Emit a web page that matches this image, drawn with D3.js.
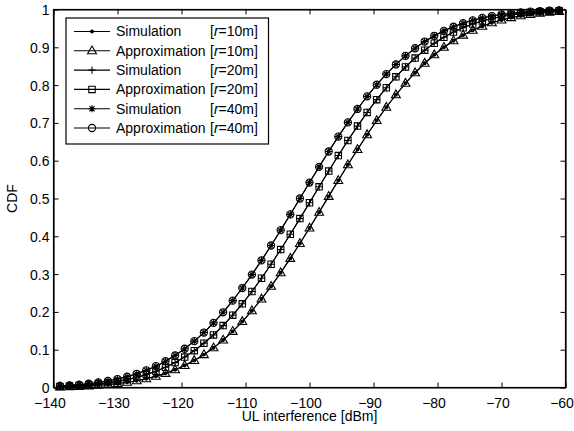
<!DOCTYPE html>
<html>
<head>
<meta charset="utf-8">
<script src="https://cdn.jsdelivr.net/npm/d3@7"></script>
<style>
  html, body { margin: 0; padding: 0; background: #fff; overflow: hidden; }
  svg { display: block; }
  text { font-family: "Liberation Sans", Arial, sans-serif; fill: #000; }
</style>
</head>
<body>
<div id="container"></div>
<script>
// canvas size
let width = 574;
let height = 431;
let margin = { top: 9.5, right: 8.5, bottom: 43.5, left: 53.5 };

// x samples [dBm]
const xValues = [
  -139, -137.5, -136, -134.5, -133, -131.5, -130, -128.5, -127, -125.5,
  -124, -122.5, -121, -119.5, -118, -116.5, -115, -113.5, -112, -110.5,
  -109, -107.5, -106, -104.5, -103, -101.5, -100, -98.5, -97, -95.5,
  -94, -92.5, -91, -89.5, -88, -86.5, -85, -83.5, -82, -80.5,
  -79, -77.5, -76, -74.5, -73, -71.5, -70, -68.5, -67, -65.5,
  -64, -62.5, -61
];

// CDF, r = 10m
const cdfR10 = [
  0.0016, 0.0023, 0.0031, 0.0043, 0.0059, 0.0079, 0.0104, 0.0138, 0.0179, 0.0231,
  0.0296, 0.0374, 0.0469, 0.0582, 0.0715, 0.0870, 0.1050, 0.1255, 0.1486, 0.1745,
  0.2030, 0.2341, 0.2677, 0.3036, 0.3415, 0.3810, 0.4218, 0.4635, 0.5056, 0.5476,
  0.5892, 0.6297, 0.6688, 0.7062, 0.7415, 0.7744, 0.8049, 0.8327, 0.8578, 0.8802,
  0.9000, 0.9173, 0.9323, 0.9450, 0.9558, 0.9648, 0.9723, 0.9784, 0.9833, 0.9872,
  0.9903, 0.9927, 0.9946
];
// r = 20m
const cdfR20 = [
  0.0028, 0.0038, 0.0052, 0.0070, 0.0093, 0.0123, 0.0161, 0.0209, 0.0268, 0.0341,
  0.0429, 0.0534, 0.0659, 0.0806, 0.0975, 0.1170, 0.1391, 0.1638, 0.1913, 0.2214,
  0.2540, 0.2890, 0.3261, 0.3650, 0.4054, 0.4468, 0.4888, 0.5309, 0.5726, 0.6136,
  0.6534, 0.6915, 0.7276, 0.7615, 0.7930, 0.8219, 0.8481, 0.8716, 0.8924, 0.9107,
  0.9266, 0.9402, 0.9517, 0.9614, 0.9695, 0.9761, 0.9814, 0.9857, 0.9892, 0.9918,
  0.9939, 0.9955, 0.9967
];
// r = 40m
const cdfR40 = [
  0.0041, 0.0056, 0.0076, 0.0101, 0.0133, 0.0173, 0.0224, 0.0286, 0.0363, 0.0455,
  0.0565, 0.0695, 0.0848, 0.1025, 0.1226, 0.1454, 0.1709, 0.1990, 0.2298, 0.2631,
  0.2987, 0.3363, 0.3757, 0.4163, 0.4579, 0.5000, 0.5421, 0.5837, 0.6243, 0.6637,
  0.7013, 0.7369, 0.7702, 0.8010, 0.8291, 0.8546, 0.8774, 0.8975, 0.9152, 0.9304,
  0.9435, 0.9545, 0.9637, 0.9714, 0.9776, 0.9827, 0.9867, 0.9899, 0.9924, 0.9944,
  0.9959, 0.9970, 0.9978
];

const seriesNames = ['Simulation', 'Approximation', 'Simulation', 'Approximation', 'Simulation', 'Approximation'];
const seriesRadius = ['10', '10', '20', '20', '40', '40'];
// simulation and approximation sit on top of each other in the plot
const seriesValues = [cdfR10, cdfR10, cdfR20, cdfR20, cdfR40, cdfR40];
const seriesMarkers = ['dot', 'triangle', 'plus', 'square', 'star', 'circle'];

const xTicks = [-140, -130, -120, -110, -100, -90, -80, -70, -60];
const yTicks = [0, 0.1, 0.2, 0.3, 0.4, 0.5, 0.6, 0.7, 0.8, 0.9, 1];
const yTickLabels = ['0', '0.1', '0.2', '0.3', '0.4', '0.5', '0.6', '0.7', '0.8', '0.9', '1'];

// marker shapes
const markerPath = {
  dot: 'M-1.4,0a1.4,1.4 0 1,0 2.8,0a1.4,1.4 0 1,0 -2.8,0',
  triangle: 'M0,-4.8L4.4,3L-4.4,3Z',
  plus: 'M-3.6,0H3.6M0,-3.6V3.6',
  square: 'M-3.2,-3.2H3.2V3.2H-3.2Z',
  star: 'M-3.6,0H3.6M0,-3.6V3.6M-2.6,-2.6L2.6,2.6M-2.6,2.6L2.6,-2.6',
  circle: 'M-3.6,0a3.6,3.6 0 1,0 7.2,0a3.6,3.6 0 1,0 -7.2,0'
};

let svg = d3.create('svg').attr('width', width).attr('height', height);

let innerWidth = width - margin.left - margin.right;
let innerHeight = height - margin.top - margin.bottom;

let xScale = d3.scaleLinear().domain([-140, -60]).range([margin.left, margin.left + innerWidth]);
let yScale = d3.scaleLinear().domain([0, 1]).range([margin.top + innerHeight, margin.top]);

svg.append('rect').attr('width', width).attr('height', height).attr('fill', '#fff');

// axes, ticks pointing inwards like matlab
let xAxis = d3.axisBottom(xScale).tickValues(xTicks).tickSizeInner(-5).tickSizeOuter(0);
let yAxis = d3.axisLeft(yScale).tickValues(yTicks).tickFormat((d, i) => yTickLabels[i])
  .tickSizeInner(-5).tickSizeOuter(0).tickPadding(4);

let gx = svg.append('g').attr('transform', `translate(0,${margin.top + innerHeight})`).call(xAxis);
let gy = svg.append('g').attr('transform', `translate(${margin.left},0)`).call(yAxis);
svg.append('g').attr('transform', `translate(0,${margin.top})`)
  .call(d3.axisTop(xScale).tickValues(xTicks).tickSizeInner(-5).tickSizeOuter(0).tickFormat(''));
svg.append('g').attr('transform', `translate(${margin.left + innerWidth},0)`)
  .call(d3.axisRight(yScale).tickValues(yTicks).tickSizeInner(-5).tickSizeOuter(0).tickFormat(''));

// x labels: explicit baseline, and matlab puts them a few pixels left of the tick
gx.selectAll('.tick text').attr('dy', null).attr('y', 20).attr('dx', -4);
gy.selectAll('.tick text').attr('dy', null).attr('y', 5);

svg.selectAll('.domain').attr('stroke', '#000').attr('stroke-width', 1.2);
svg.selectAll('.tick line').attr('stroke', '#000').attr('stroke-width', 1);
svg.selectAll('.tick text').attr('font-size', '14px').attr('font-family', '"Liberation Sans", Arial, sans-serif').attr('fill', '#000');

// box
svg.append('rect')
  .attr('x', margin.left).attr('y', margin.top)
  .attr('width', innerWidth).attr('height', innerHeight)
  .attr('fill', 'none').attr('stroke', '#000').attr('stroke-width', 1.2);

// axis labels
svg.append('text')
  .attr('x', xScale(-100)).attr('y', 421)
  .attr('text-anchor', 'middle').attr('font-size', '14px')
  .text('UL interference [dBm]');
svg.append('text')
  .attr('transform', `translate(17,${yScale(0.5)}) rotate(-90)`)
  .attr('text-anchor', 'middle').attr('font-size', '14px')
  .text('CDF');

// curves
let line = d3.line().x((d, i) => xScale(xValues[i])).y(d => yScale(d));

seriesValues.forEach((vals, s) => {
  let g = svg.append('g');
  g.append('path')
    .attr('d', line(vals))
    .attr('fill', 'none').attr('stroke', '#000').attr('stroke-width', 1.1);
  g.selectAll('.mk')
    .data(vals)
    .enter()
    .append('path')
    .attr('transform', (d, i) => `translate(${xScale(xValues[i])},${yScale(d)})`)
    .attr('d', markerPath[seriesMarkers[s]])
    .attr('fill', seriesMarkers[s] === 'dot' ? '#000' : 'none')
    .attr('stroke', '#000').attr('stroke-width', 1.1);
});

// legend
let legend = svg.append('g');
legend.append('rect')
  .attr('x', 66).attr('y', 18).attr('width', 202.5).attr('height', 126)
  .attr('fill', '#fff').attr('stroke', '#000').attr('stroke-width', 1.2);

seriesNames.forEach((name, i) => {
  let y = 31.5 + i * 19.3;
  legend.append('line')
    .attr('x1', 74).attr('x2', 110).attr('y1', y).attr('y2', y)
    .attr('stroke', '#000').attr('stroke-width', 1.1);
  legend.append('path')
    .attr('transform', `translate(92,${y})`)
    .attr('d', markerPath[seriesMarkers[i]])
    .attr('fill', seriesMarkers[i] === 'dot' ? '#000' : 'none')
    .attr('stroke', '#000').attr('stroke-width', 1.1);
  let t = legend.append('text').attr('y', y + 4.8).attr('font-size', '14px');
  t.append('tspan').attr('x', 116).text(name);
  t.append('tspan').attr('x', 210).text('[');
  t.append('tspan').attr('font-style', 'italic').text('r');
  t.append('tspan').text('=' + seriesRadius[i] + 'm]');
});

d3.select('#container').append(() => svg.node());
</script>
</body>
</html>
